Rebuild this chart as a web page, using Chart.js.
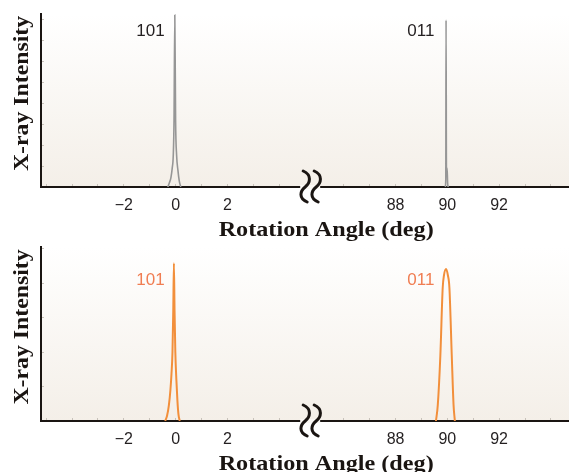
<!DOCTYPE html>
<html>
<head>
<meta charset="utf-8">
<script src="https://cdn.jsdelivr.net/npm/chart.js@4.4.0/dist/chart.umd.min.js"></script>
<style>
  body { margin: 0; background: #fff; }
  #wrap { position: relative; width: 569px; height: 472px; overflow: hidden; }
  canvas { display: block; position: absolute; left: 0; }
  #chartTop { top: 0; }
  #chartBottom { top: 236px; }
</style>
</head>
<body>
<div id="wrap">
  <canvas id="chartTop" width="569" height="250"></canvas>
  <canvas id="chartBottom" width="569" height="236"></canvas>
</div>
<script>
// x axis is broken: left part around 0 deg, right part around 90 deg
const leftTicks = [-5, -4, -3, -2, -1, 0, 1, 2, 3, 4, 5];
const rightTicks = [85, 86, 87, 88, 89, 90, 91, 92, 93, 94];
const labeledTicks = [-2, 0, 2, 88, 90, 92];

// top panel (grey)
const top101Angle = [-0.30, -0.24, -0.18, -0.13, -0.09, -0.06, -0.03, 0.00, 0.04, 0.09, 0.14, 0.20];
const top101Int = [0, 0.2, 0.45, 0.9, 1.5, 3.2, 8.19, 3.2, 1.5, 0.8, 0.3, 0];
const top011Angle = [89.92, 89.94, 89.95, 89.965, 89.99, 90.01, 90.03];
const top011Int = [0, 0.4, 7.95, 0.8, 0.9, 0.2, 0];
const topYTicks = [0, 1, 2, 3, 4, 5, 6, 7, 8];

// bottom panel (orange)
const bot101Angle = [-0.40, -0.33, -0.26, -0.20, -0.16, -0.12, -0.09, -0.065, -0.04, -0.01, 0.03, 0.07, 0.11, 0.16];
const bot101Int = [0, 0.15, 0.45, 0.9, 1.35, 2.0, 3.2, 4.58, 3.2, 2.0, 1.2, 0.6, 0.2, 0];
const bot011Angle = [89.56, 89.63, 89.73, 89.82, 89.87, 89.95, 90.02, 90.08, 90.17, 90.24, 90.29];
const bot011Int = [0, 0.46, 1.91, 3.86, 4.23, 4.41, 4.23, 3.86, 1.91, 0.46, 0];
const botYTicks = [0, 1, 2, 3, 4, 5];

// peak labels
const peakLabels = ['101', '011'];
const labelAngle = [-0.42, 89.5];
const topLabelInt = [7.43, 7.43];
const botLabelInt = [4.09, 4.09];

const axisColor = '#1a1512';
const tickColor = '#c8c2ba';

function fmtTick(v) {
  if (!labeledTicks.includes(v)) return '';
  return v < 0 ? '\u2212' + Math.abs(v) : String(v);
}

const brokenAxisPlugin = {
  id: 'brokenAxis',
  beforeDraw(chart) {
    const { ctx, chartArea: a } = chart;
    const g = ctx.createLinearGradient(0, a.top, 0, a.bottom);
    g.addColorStop(0, '#ffffff');
    g.addColorStop(1, '#f4efe8');
    ctx.save();
    ctx.fillStyle = g;
    ctx.fillRect(a.left, a.top, a.right - a.left, a.bottom - a.top);
    ctx.restore();
  },
  afterDraw(chart, args, opts) {
    const { ctx, chartArea: a, scales } = chart;
    ctx.save();

    // peak labels
    ctx.font = '17px "Liberation Sans", Arial, sans-serif';
    ctx.fillStyle = opts.labelColor;
    ctx.textAlign = 'right';
    ctx.textBaseline = 'middle';
    peakLabels.forEach((t, i) => {
      const sc = labelAngle[i] > 45 ? scales.xR : scales.xL;
      ctx.fillText(t, sc.getPixelForValue(labelAngle[i]), scales.y.getPixelForValue(opts.labelInt[i]));
    });

    // axis titles (source font is a little stretched)
    const bx = scales.xL.right;
    ctx.fillStyle = axisColor;
    ctx.font = 'bold 22px "Liberation Serif", "Times New Roman", serif';
    ctx.textAlign = 'center';
    ctx.save();
    ctx.translate(bx + 16, a.bottom + 43);
    ctx.scale(1.1, 1);
    ctx.fillText('Rotation Angle (deg)', 0, 0);
    ctx.restore();
    ctx.save();
    ctx.translate(22, (a.top + a.bottom) / 2 - 7);
    ctx.rotate(-Math.PI / 2);
    ctx.scale(1.08, 1);
    ctx.fillText('X-ray Intensity', 0, 0);
    ctx.restore();

    // break mark
    const by = a.bottom;
    ctx.fillStyle = '#faf7f3';
    ctx.fillRect(bx - 10, by - 2, 20, 4);
    ctx.strokeStyle = axisColor;
    ctx.lineWidth = 3;
    ctx.lineCap = 'round';
    [bx - 5, bx + 6].forEach(cx => {
      ctx.beginPath();
      ctx.moveTo(cx - 2, by - 16);
      ctx.bezierCurveTo(cx + 7, by - 12, cx + 5, by - 4, cx, by);
      ctx.bezierCurveTo(cx - 5, by + 4, cx - 7, by + 11, cx + 2, by + 15);
      ctx.stroke();
    });
    ctx.restore();
  }
};

function xScale(ticks, min, max, weight) {
  return {
    type: 'linear',
    position: 'bottom',
    stack: 'x',
    stackWeight: weight,
    min: min,
    max: max,
    afterBuildTicks: s => { s.ticks = ticks.map(v => ({ value: v })); },
    afterFit: s => { s.height = 30; s.paddingLeft = 0; s.paddingRight = 0; },
    grid: { drawOnChartArea: false, drawTicks: true, tickLength: -3, color: tickColor },
    border: { display: true, color: axisColor, width: 2 },
    ticks: {
      callback: fmtTick,
      autoSkip: false,
      maxRotation: 0,
      padding: 12,
      color: '#231f20',
      font: { family: '"Liberation Sans", Arial, sans-serif', size: 16 }
    }
  };
}

function renderPanel(canvasId, series, color, lineWidth, yMax, yTicks, labelInt, labelColor, padTop, padBottom) {
  const ctx = document.getElementById(canvasId).getContext('2d');
  new Chart(ctx, {
    type: 'scatter',
    data: {
      datasets: series.map(s => ({
        data: s.angle.map((a, i) => ({ x: a, y: s.intensity[i] })),
        xAxisID: s.axis,
        yAxisID: 'y',
        showLine: true,
        borderColor: color,
        borderWidth: lineWidth,
        pointRadius: 0,
        cubicInterpolationMode: 'monotone'
      }))
    },
    options: {
      responsive: false,
      animation: false,
      events: [],
      layout: { padding: { top: padTop, left: 41, right: 0, bottom: padBottom } },
      plugins: {
        legend: { display: false },
        tooltip: { enabled: false },
        brokenAxis: { labelInt: labelInt, labelColor: labelColor }
      },
      scales: {
        xL: xScale(leftTicks, -5.2, 5.2, 10.4),
        xR: xScale(rightTicks, 84.7, 94.7, 10.0),
        y: {
          type: 'linear',
          position: 'left',
          min: 0,
          max: yMax,
          afterBuildTicks: s => { s.ticks = yTicks.map(v => ({ value: v })); },
          afterFit: s => { s.width = 0; s.paddingTop = 0; s.paddingBottom = 0; },
          ticks: { display: false },
          grid: { drawOnChartArea: false, drawTicks: true, tickLength: -3, color: tickColor },
          border: { display: true, color: axisColor, width: 2 }
        }
      }
    },
    plugins: [brokenAxisPlugin]
  });
}

renderPanel('chartTop', [
  { angle: top101Angle, intensity: top101Int, axis: 'xL' },
  { angle: top011Angle, intensity: top011Int, axis: 'xR' }
], '#969696', 1.6, 8.24, topYTicks, topLabelInt, '#231f20', 14, 33);

renderPanel('chartBottom', [
  { angle: bot101Angle, intensity: bot101Int, axis: 'xL' },
  { angle: bot011Angle, intensity: bot011Int, axis: 'xR' }
], '#f28f3b', 2, 5.05, botYTicks, botLabelInt, '#f07d52', 11, 21);
</script>
</body>
</html>
